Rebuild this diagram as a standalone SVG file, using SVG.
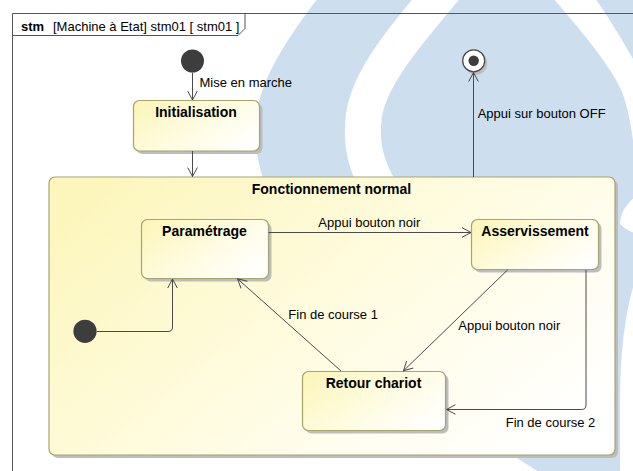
<svg xmlns="http://www.w3.org/2000/svg" width="633" height="471" viewBox="0 0 633 471">
<defs>
<linearGradient id="fillg" x1="0" y1="0.2" x2="1" y2="0.8">
<stop offset="0" stop-color="#fcf6bd"/>
<stop offset="0.55" stop-color="#fffce4"/>
<stop offset="1" stop-color="#ffffff"/>
</linearGradient>
<marker id="arr" markerWidth="12" markerHeight="12" viewBox="-11 -6 12 12" refX="0" refY="0" orient="auto" markerUnits="userSpaceOnUse">
<path d="M-9,-4.8 L0,0 L-9,4.8" fill="none" stroke="#4a4a4a" stroke-width="1"/>
</marker>
<style>
.bg{fill:#cddfee}
.wb{fill:#ffffff}
.frame{fill:none;stroke:#555555;stroke-width:1}
.node{fill:url(#fillg);stroke:#a7a46c;stroke-width:1.2}
.shadow{fill:#bdbdbd}
.conn{fill:none;stroke:#4a4a4a;stroke-width:1}
.title{font-family:"Liberation Sans",Arial,sans-serif;font-size:14px;font-weight:bold;fill:#000;text-anchor:middle}
.lbl{font-family:"Liberation Sans",Arial,sans-serif;font-size:13px;fill:#000}
.hdr{font-family:"Liberation Sans",Arial,sans-serif;font-size:13px;fill:#000}
.pseudo{fill:#3d3d3d}
</style>
</defs>
<rect x="0" y="0" width="633" height="471" fill="#ffffff"/>
<!-- watermark background -->
<g id="watermark">
<path class="bg" d="M318,-2 C290,35 262,75 256,115 C250,160 272,220 322,290 C390,370 470,430 552,480 L645,480 L645,-2 Z"/>
<path d="M452,-20 C410,30 370,75 364,115 C360,145 366,165 380,190" fill="none" stroke="#ffffff" stroke-width="36"/>
<path class="wb" d="M553,-2 C585,35 612,68 622,92 C628,108 632,128 634,150 L645,150 L645,80 C628,50 612,22 595,-2 Z"/>
<path class="wb" d="M645,190 C632,197 620,210 620,224 C626,230 634,234 645,236 Z"/>
<path class="wb" d="M645,255 C628,290 620,340 620,400 L620,480 L645,480 Z"/>
</g>
<!-- frame -->
<g id="frame">
<path class="frame" d="M12.5,480 L12.5,13.5 L640,13.5"/>
<path class="frame" d="M12.5,35.5 L238,35.5 L245,28.5 L245,13.5"/>
<text class="hdr" x="21" y="31" font-weight="bold">stm</text>
<text class="hdr" x="53" y="31">[Machine à Etat] stm01 [ stm01 ]</text>
</g>
<!-- composite state -->
<g id="fonctionnement">
<rect class="shadow" x="52" y="180" width="566" height="278" rx="6"/>
<rect class="node" x="49" y="177" width="566" height="278" rx="6"/>
<text class="title" x="331.5" y="194">Fonctionnement normal</text>
</g>
<g id="initial-top">
<circle class="pseudo" cx="192.5" cy="61" r="11.5"/>
</g>
<g id="final">
<circle cx="476" cy="63.5" r="11.3" fill="#bdbdbd"/>
<circle cx="473.7" cy="60.8" r="11" fill="#ffffff" stroke="#4a4a4a" stroke-width="1.3"/>
<circle cx="473.7" cy="60.8" r="5.2" fill="#3d3d3d"/>
</g>
<g id="initialisation">
<rect class="shadow" x="136.5" y="103.5" width="126" height="50.5" rx="6"/>
<rect class="node" x="133.5" y="100.5" width="126" height="50.5" rx="6"/>
<text class="title" x="196" y="117">Initialisation</text>
</g>
<g id="parametrage">
<rect class="shadow" x="144.5" y="222.5" width="127" height="59" rx="6"/>
<rect class="node" x="141.5" y="219.5" width="127" height="59" rx="6"/>
<text class="title" x="204.5" y="235.5">Paramétrage</text>
</g>
<g id="asservissement">
<rect class="shadow" x="474.5" y="222.5" width="127" height="50" rx="6"/>
<rect class="node" x="471.5" y="219.5" width="127" height="50" rx="6"/>
<text class="title" x="535" y="235.5">Asservissement</text>
</g>
<g id="retour">
<rect class="shadow" x="305.5" y="374.5" width="143" height="59" rx="6"/>
<rect class="node" x="302.5" y="371.5" width="143" height="59" rx="6"/>
<text class="title" x="373.5" y="387.5">Retour chariot</text>
</g>
<g id="initial-inner">
<circle class="pseudo" cx="85" cy="331.3" r="11.6"/>
</g>
<!-- connectors -->
<g id="connectors">
<path class="conn" d="M192.5,72.5 L192.5,100" marker-end="url(#arr)"/>
<path class="conn" d="M192.5,151 L192.5,176.5" marker-end="url(#arr)"/>
<path class="conn" d="M473.5,177 L473.5,72.5" marker-end="url(#arr)"/>
<path class="conn" d="M268.5,232.5 L471,232.5" marker-end="url(#arr)"/>
<path class="conn" d="M96.5,331.5 L168,331.5 Q172.5,331.5 172.5,327 L172.5,279" marker-end="url(#arr)"/>
<path class="conn" d="M341,371 L237.5,278.8" marker-end="url(#arr)"/>
<path class="conn" d="M507.5,270 L403.5,370.8" marker-end="url(#arr)"/>
<path class="conn" d="M586,270 L586,405 Q586,409.5 581.5,409.5 L446.5,409.5" marker-end="url(#arr)"/>
<text class="lbl" x="199.5" y="87">Mise en marche</text>
<text class="lbl" x="477.7" y="118.3">Appui sur bouton OFF</text>
<text class="lbl" x="318.3" y="226.7">Appui bouton noir</text>
<text class="lbl" x="288.3" y="319">Fin de course 1</text>
<text class="lbl" x="458.3" y="330">Appui bouton noir</text>
<text class="lbl" x="505.7" y="426.7">Fin de course 2</text>
</g>
</svg>
